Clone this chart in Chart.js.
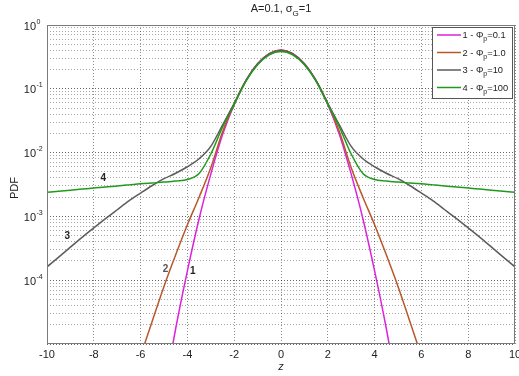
<!DOCTYPE html>
<html><head><meta charset="utf-8">
<script src="https://cdn.jsdelivr.net/npm/chart.js@4.4.0/dist/chart.umd.min.js"></script>
<style>html,body{margin:0;padding:0;background:#fff}#wrap{width:519px;height:376px;position:relative}</style>
</head><body><div id="wrap"><canvas id="c" width="519" height="376"></canvas></div>
<script>
// ---- data ----
const zValues = [-10,-9.5,-9,-8.5,-8,-7.5,-7,-6.5,-6,-5.5,-5,-4.5,-4,-3.5,-3,-2.5,-2,-1.5,-1,-0.5,0,0.5,1,1.5,2,2.5,3,3.5,4,4.5,5,5.5,6,6.5,7,7.5,8,8.5,9,9.5,10];
const pdf1 = [null,null,null,null,null,null,null,null,null,null,1.6e-6,1.75e-5,1.4e-4,9.2e-4,0.0046,0.019,0.057,0.134,0.247,0.357,0.405,0.357,0.247,0.134,0.057,0.019,0.0046,9.2e-4,1.4e-4,1.75e-5,1.6e-6,null,null,null,null,null,null,null,null,null,null];
const pdf2 = [null,null,null,null,null,null,null,1.8e-6,6.5e-6,2.3e-5,8e-5,2.5e-4,7.4e-4,2.0e-3,0.0058,0.021,0.058,0.134,0.247,0.357,0.405,0.357,0.247,0.134,0.058,0.021,0.0058,2.0e-3,7.4e-4,2.5e-4,8e-5,2.3e-5,6.5e-6,1.8e-6,null,null,null,null,null,null,null];
const pdf3 = [1.62e-4,2.3e-4,3.3e-4,4.7e-4,6.6e-4,9.2e-4,1.27e-3,1.75e-3,2.32e-3,3.05e-3,3.9e-3,4.75e-3,6.0e-3,8.0e-3,0.0125,0.027,0.059,0.134,0.245,0.353,0.40,0.353,0.245,0.134,0.059,0.027,0.0125,8.0e-3,6.0e-3,4.75e-3,3.9e-3,3.05e-3,2.32e-3,1.75e-3,1.27e-3,9.2e-4,6.6e-4,4.7e-4,3.3e-4,2.3e-4,1.62e-4];
const pdf4 = [2.38e-3,2.48e-3,2.58e-3,2.68e-3,2.78e-3,2.9e-3,3.0e-3,3.12e-3,3.25e-3,3.35e-3,3.45e-3,3.6e-3,3.78e-3,4.7e-3,0.0095,0.025,0.057,0.131,0.238,0.34,0.383,0.34,0.238,0.131,0.057,0.025,0.0095,4.7e-3,3.78e-3,3.6e-3,3.45e-3,3.35e-3,3.25e-3,3.12e-3,3.0e-3,2.9e-3,2.78e-3,2.68e-3,2.58e-3,2.48e-3,2.38e-3];
const seriesNumbers = ['1','2','3','4'];
const phiValues = ['0.1','1.0','10','100'];
const xTicks = [-10,-8,-6,-4,-2,0,2,4,6,8,10];
const yDecadeExponents = [-5,-4,-3,-2,-1,0];
const yLabelExponents = ['0','-1','-2','-3','-4'];
const yMinorMultipliers = [2,3,4,5,6,7,8,9];
// curve annotations: [text, z, pdf]
const curveNotes = [['4',-7.59,4.0e-3],['3',-9.13,4.9e-4],['2',-4.93,1.5e-4],['1',-3.77,1.38e-4]];

const colors = ['#dd22dd','#b8582a','#5c5c5c','#1f9a1f'];
const FONT = '"Liberation Sans", Arial, Helvetica, sans-serif';
const allSeries = [pdf1,pdf2,pdf3,pdf4];

const datasets = allSeries.map((s,i)=>({
  label: seriesNumbers[i] + ' - Φp=' + phiValues[i],
  data: zValues.map((z,k)=>({x:z,y:s[k]})),
  borderColor: colors[i],
  backgroundColor: colors[i],
  borderWidth: 1.5,
  pointRadius: 0,
  fill: false,
  cubicInterpolationMode: 'monotone',
  spanGaps: false,
  order: 3 - i
}));

function rich(ctx, parts, x, y, size, align, color) {
  const f = k => (k==='n' ? size : Math.round(size*0.72)) + 'px ' + FONT;
  let w = 0;
  parts.forEach(p=>{ctx.font=f(p[1]); w += ctx.measureText(p[0]).width;});
  let cx = align==='center' ? x - w/2 : (align==='right' ? x - w : x);
  ctx.fillStyle = color || '#222';
  ctx.textBaseline = 'alphabetic';
  ctx.textAlign = 'left';
  parts.forEach(p=>{
    ctx.font = f(p[1]);
    const dy = p[1]==='sub' ? size*0.35 : (p[1]==='sup' ? -size*0.5 : 0);
    ctx.fillText(p[0], cx, y + dy);
    cx += ctx.measureText(p[0]).width;
  });
}

const decor = {
  id:'decor',
  afterDraw(chart){
    const ctx = chart.ctx, a = chart.chartArea;
    const ys = chart.scales.y, xs = chart.scales.x;
    ctx.save();
    // box
    ctx.strokeStyle = '#7a7a7a'; ctx.lineWidth = 1;
    ctx.strokeRect(Math.round(a.left)+0.5, Math.round(a.top)+0.5, Math.round(a.right-a.left)-1, Math.round(a.bottom-a.top)-1);
    // y tick labels
    yLabelExponents.forEach(e=>{
      const py = ys.getPixelForValue(Math.pow(10, Number(e)));
      ctx.font = '11px ' + FONT; ctx.fillStyle = '#222'; ctx.textAlign='right'; ctx.textBaseline='alphabetic';
      ctx.fillText('10', 36, py + 4.5);
      ctx.font = '7px ' + FONT; ctx.textAlign='left';
      ctx.fillText(e, 36.5, py - 1.5);
    });
    // title
    rich(ctx, [['A=0.1, σ','n'],['G','sub'],['=1','n']], (a.left+a.right)/2, 12, 11, 'center', '#222');
    // axis titles
    ctx.font = 'italic 11px ' + FONT; ctx.fillStyle='#222'; ctx.textAlign='center'; ctx.textBaseline='middle';
    ctx.fillText('z', (a.left+a.right)/2, 367);
    ctx.save(); ctx.translate(15, 188); ctx.rotate(-Math.PI/2);
    ctx.font = '11px ' + FONT; ctx.fillText('PDF', 0, 0); ctx.restore();
    // curve notes
    ctx.font = 'bold 10px ' + FONT; ctx.textAlign='center'; ctx.textBaseline='middle';
    curveNotes.forEach(n=>{
      ctx.fillStyle = n[0]==='2' ? '#555' : '#222';
      ctx.fillText(n[0], xs.getPixelForValue(n[1]), ys.getPixelForValue(n[2]));
    });
    // legend
    const lx = 432, ly = 27, lw = 80, lh = 71;
    ctx.fillStyle = '#fff'; ctx.fillRect(lx, ly, lw, lh);
    ctx.strokeStyle = '#555'; ctx.lineWidth = 1; ctx.strokeRect(lx+0.5, ly+0.5, lw, lh);
    const rows = [35, 52.5, 70, 87.5];
    seriesNumbers.forEach((n,i)=>{
      ctx.strokeStyle = colors[i]; ctx.lineWidth = 1.5;
      ctx.beginPath(); ctx.moveTo(437, rows[i]); ctx.lineTo(461, rows[i]); ctx.stroke();
      rich(ctx, [[n + ' - Φ','n'],['p','sub'],['=' + phiValues[i],'n']], 462.5, rows[i] + 3.2, 9.3, 'left', '#222');
    });
    ctx.restore();
  }
};

new Chart(document.getElementById('c'), {
  type: 'line',
  data: { datasets },
  options: {
    responsive: false,
    animation: false,
    layout: { padding: { left: 47, top: 25, right: 4, bottom: 0 } },
    plugins: { legend: { display: false }, tooltip: { enabled: false }, title: { display: false } },
    scales: {
      x: {
        type: 'linear', min: -10, max: 10,
        afterBuildTicks: s => { s.ticks = xTicks.map(v=>({value:v})); },
        afterFit: s => { s.height = 32; s.paddingLeft = 0; s.paddingRight = 0; },
        ticks: { font: { size: 11, family: FONT }, color: '#222', padding: 4, maxRotation: 0, autoSkip: false },
        grid: { color: 'rgba(0,0,0,0.45)', lineWidth: 1, drawTicks: false },
        border: { display: false, dash: [1,2] }
      },
      y: {
        type: 'logarithmic', min: 1e-5, max: 1,
        afterBuildTicks: s => {
          const t = [];
          yDecadeExponents.forEach(e=>{
            const d = Math.pow(10, e);
            t.push({value: d, major: true});
            if (e < 0) yMinorMultipliers.forEach(m=>t.push({value: m*d, major: false}));
          });
          s.ticks = t;
        },
        afterFit: s => { s.width = 0; s.paddingTop = 0; s.paddingBottom = 0; },
        ticks: { display: false },
        grid: {
          drawTicks: false, lineWidth: 1,
          color: c => (c.tick && c.tick.major) ? 'rgba(0,0,0,0.6)' : 'rgba(0,0,0,0.35)'
        },
        border: { display: false, dash: [1,2] }
      }
    }
  },
  plugins: [decor]
});
</script>
</body></html>
